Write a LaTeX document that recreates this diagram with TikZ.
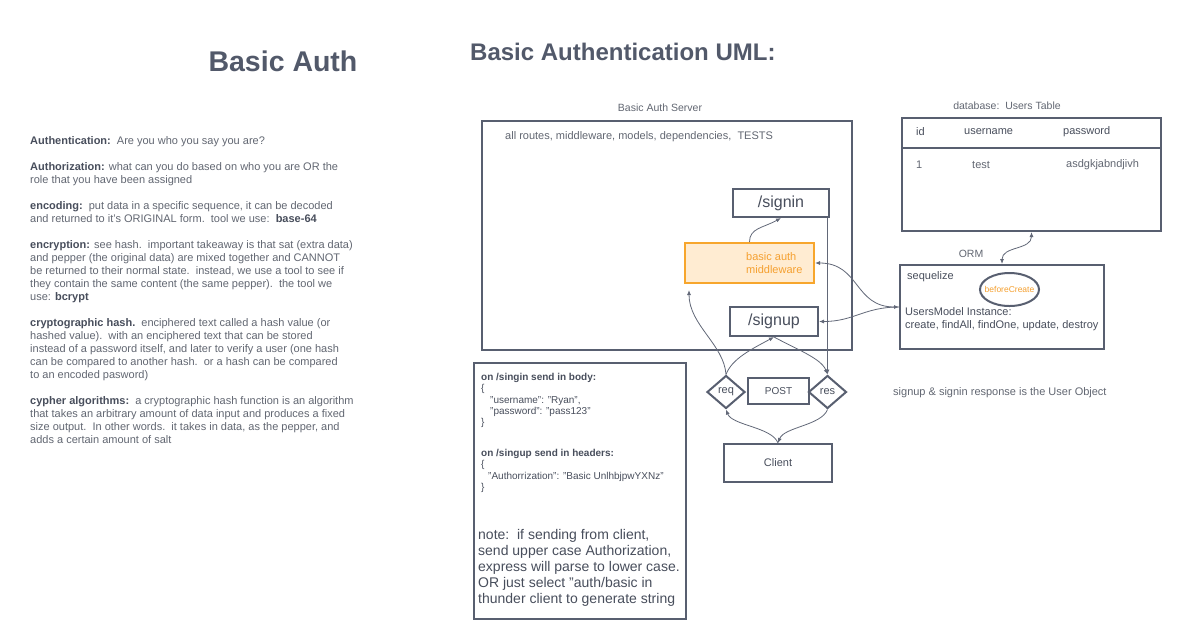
\documentclass[tikz,border=0pt]{standalone}
\usepackage{fontspec}
\setmainfont{Liberation Sans}
\usepackage{tikz}
\usetikzlibrary{arrows.meta,shapes.geometric}
\definecolor{lineclr}{RGB}{88,95,112}
\definecolor{connclr}{RGB}{98,104,120}
\definecolor{txtclr}{RGB}{98,103,114}
\definecolor{kwclr}{RGB}{72,78,92}
\definecolor{ttlclr}{RGB}{82,89,106}
\definecolor{orgline}{RGB}{247,166,45}
\definecolor{orgfill}{RGB}{255,236,210}
\definecolor{orgtxt}{RGB}{245,160,48}
\newcommand{\kw}[1]{{\color{kwclr}\bfseries #1}}
\newcommand{\fsz}[2]{\fontsize{#1}{#2}\selectfont}

\begin{document}
\begin{tikzpicture}[x=1pt, y=-1pt,
		box/.style={draw=lineclr, line width=2pt, rectangle, inner sep=0pt, text=kwclr, font=\fsz{11}{13}},
		dia/.style={draw=lineclr, line width=2pt, diamond, inner sep=0pt, minimum width=38pt, minimum height=33pt, text=kwclr, font=\fsz{11}{13}},
		txt/.style={inner sep=0pt, text=txtclr, font=\fsz{11}{13}},
		ttl/.style={inner sep=0pt, text=ttlclr},
		conn/.style={draw=connclr, line width=0.8pt, -{Latex[length=5pt,width=4pt]}},
		both/.style={conn, {Latex[length=5pt,width=4pt]}-{Latex[length=5pt,width=4pt]}}]
		%%%%% START %%%%%
		\fill[white] (0,0) rectangle (1187,641);
		\useasboundingbox (0,0) rectangle (1187,641);
		
		% titles
		\node[ttl, font=\bfseries\fsz{28.5}{34}] (authttl) at (283,61) {Basic Auth};
		\node[ttl, anchor=west, font=\bfseries\fsz{24}{28}] (umlttl) at (470,52) {Basic Authentication UML:};
		
		% definitions
		\node[txt, anchor=north west, align=left] (defs) at (30,136) {%
			\kw{Authentication:}\ \ Are you who you say you are?\\[13pt]
			\kw{Authorization:} what can you do based on who you are OR the\\
			role that you have been assigned\\[13pt]
			\kw{encoding:}\ \ put data in a specific sequence, it can be decoded\\
			and returned to it's ORIGINAL form.\ \ tool we use:\ \ \kw{base-64}\\[13pt]
			\kw{encryption:} see hash.\ \ important takeaway is that sat (extra data)\\
			and pepper (the original data) are mixed together and CANNOT\\
			be returned to their normal state.\ \ instead, we use a tool to see if\\
			they contain the same content (the same pepper).\ \ the tool we\\
			use: \kw{bcrypt}\\[13pt]
			\kw{cryptographic hash.}\ \ enciphered text called a hash value (or\\
			hashed value).\ \ with an enciphered text that can be stored\\
			instead of a password itself, and later to verify a user (one hash\\
			can be compared to another hash.\ \ or a hash can be compared\\
			to an encoded pasword)\\[13pt]
			\kw{cypher algorithms:}\ \ a cryptographic hash function is an algorithm\\
			that takes an arbitrary amount of data input and produces a fixed\\
			size output.\ \ In other words.\ \ it takes in data, as the pepper, and\\
			adds a certain amount of salt};
		
		% server
		\node[txt, font=\fsz{10.5}{12}] (srvlbl) at (660,108) {Basic Auth Server};
		\node[box, minimum width=370pt, minimum height=229pt] (server) at (667,235.5) {};
		\node[txt, anchor=west] (srvtxt) at (505,137) {all routes, middleware, models, dependencies,\ \ TESTS};
		\node[box, minimum width=96pt, minimum height=28pt, font=\fsz{16}{19}] (signin) at (781,203) {/signin};
		\node[draw=orgline, fill=orgfill, line width=2pt, minimum width=129pt, minimum height=40pt] (mw) at (749.5,263) {};
		\node[anchor=west, align=left, inner sep=0pt, text=orgtxt, font=\fsz{11}{13}] (mwtxt) at (746,263) {basic auth\\middleware};
		\node[box, minimum width=88pt, minimum height=29pt, font=\fsz{16}{19}] (signup) at (774,321.5) {/signup};
		
		% request / response
		\node[dia] (req) at (726,392) {req};
		\node[box, minimum width=61pt, minimum height=26pt, font=\fsz{10}{12}] (post) at (778.5,391) {POST};
		\node[dia] (res) at (827.5,392) {res};
		\node[box, minimum width=108pt, minimum height=38pt] (client) at (778,463) {Client};
		
		% database
		\node[txt, font=\fsz{10.5}{12}] (dblbl) at (1007,106) {database:\ \ Users Table};
		\node[box, minimum width=259pt, minimum height=113pt] (db) at (1031.5,174.5) {};
		\draw[lineclr, line width=2pt] ([yshift=-31pt]db.north west) -- ([yshift=-31pt]db.north east);
		\node[txt, anchor=west, text=kwclr] (colid) at (916,132) {id};
		\node[txt, anchor=west, text=kwclr] (colname) at (964,132) {username};
		\node[txt, anchor=west, text=kwclr] (colpass) at (1063,132) {password};
		\node[txt, anchor=west] (rowid) at (916,165) {1};
		\node[txt, anchor=west] (rowname) at (972,165) {test};
		\node[txt, anchor=west] (rowpass) at (1066,165) {asdgkjabndjivh};
		
		% orm
		\node[txt, font=\fsz{10.5}{12}] (orm) at (971,254) {ORM};
		\node[box, minimum width=204pt, minimum height=84pt] (seq) at (1002,307) {};
		\node[txt, anchor=west, text=kwclr] (seqtxt) at (907,277) {sequelize};
		\node[draw=lineclr, line width=2pt, ellipse, minimum width=59pt, minimum height=33pt] (hook) at (1009.5,289.5) {};
		\node[inner sep=0pt, text=orgtxt, font=\fsz{8.5}{10}] (hooktxt) at (hook) {beforeCreate};
		\node[txt, anchor=west, text=kwclr] (modeltxt) at (905,312) {UsersModel Instance:};
		\node[txt, anchor=west, text=kwclr] (methtxt) at (905,326) {create, findAll, findOne, update, destroy};
		\node[txt, anchor=west] (resptxt) at (893,393) {signup \& signin response is the User Object};
		
		% notes
		\node[box, minimum width=212pt, minimum height=256pt] (notebox) at (580,491) {};
		\node[txt, anchor=north west, align=left, text=kwclr, font=\fsz{10}{11.3}] (bodytxt) at (481,373) {%
			\kw{on /singin send in body:}\\
			\{\\
			\hspace*{9pt}"username": "Ryan",\\
			\hspace*{9pt}"password": "pass123"\\
			\}};
		\node[txt, anchor=north west, align=left, text=kwclr, font=\fsz{10}{11.3}] (headtxt) at (481,449) {%
			\kw{on /singup send in headers:}\\
			\{\\
			\hspace*{7pt}"Authorrization": "Basic UnlhbjpwYXNz"\\
			\}};
		\node[txt, anchor=north west, align=left, text=kwclr, font=\fsz{14}{16}] (bignote) at (478,529) {%
			note:\ \ if sending from client,\\
			send upper case Authorization,\\
			express will parse to lower case.\\
			OR just select "auth/basic in\\
			thunder client to generate string};
		
		% connectors
		\coordinate (mwin) at (689,290);
		\draw[conn] (mw.north) .. controls +(0,-14) and +(-18,10) .. (signin.south);
		\draw[conn] (signin.south -| res.north) -- (res.north);
		\draw[conn] (req.north) .. controls +(-2,-30) and +(0,35) .. (mwin);
		\draw[conn] (req.north) .. controls +(6,-16) and +(-22,12) .. (signup.south);
		\draw[conn] (signup.south) .. controls +(22,12) and +(-6,-16) .. (res.north);
		\draw[conn] (client.north) .. controls +(-6,-16) and +(6,16) .. (req.south);
		\draw[conn] (res.south) .. controls +(-6,16) and +(6,-16) .. (client.north);
		\draw[both] (seq.north) .. controls +(0,-18) and +(0,18) .. (db.south);
		\draw[both] (seq.west) .. controls +(-45,0) and +(45,0) .. (mw.east);
		\draw[conn] (seq.west) .. controls +(-35,0) and +(35,0) .. (signup.east);
		%%%%% END %%%%%
	\end{tikzpicture}
\end{document}
